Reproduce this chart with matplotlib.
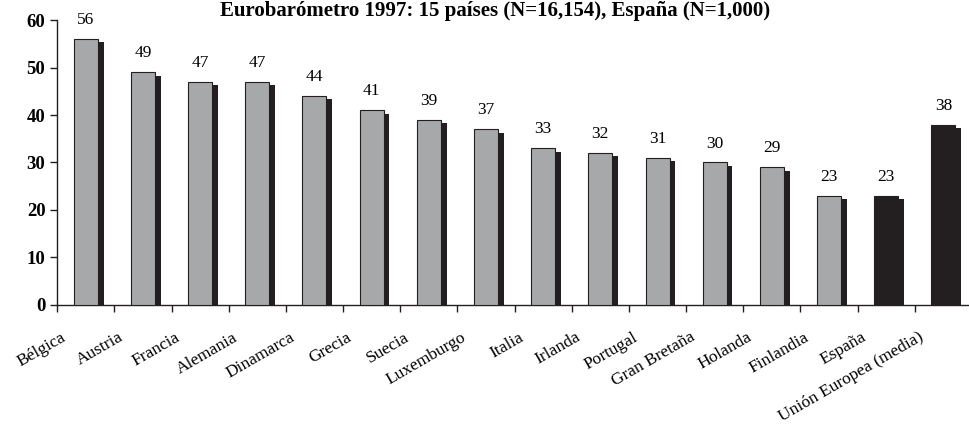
import matplotlib.pyplot as plt
import numpy as np

paises = ['Bélgica', 'Austria', 'Francia', 'Alemania', 'Dinamarca', 'Grecia',
          'Suecia', 'Luxemburgo', 'Italia', 'Irlanda', 'Portugal',
          'Gran Bretaña', 'Holanda', 'Finlandia', 'España',
          'Unión Europea (media)']
valores = [56, 49, 47, 47, 44, 41, 39, 37, 33, 32, 31, 30, 29, 23, 23, 38]
destacados = ['España', 'Unión Europea (media)']


def plot():
    plt.rcParams['font.family'] = ['Liberation Serif', 'DejaVu Serif']

    fig = plt.figure(figsize=(9.7, 4.38), dpi=100)
    ax = fig.add_axes([0.059, 0.304, 0.943, 0.65])

    x = np.arange(len(paises))
    colores = ['#231f20' if p in destacados else '#a7a8aa' for p in paises]

    # sombra
    ax.bar(x + 0.1, np.array(valores) - 0.7, width=0.42, color='#231f20',
           zorder=2)
    ax.bar(x, valores, width=0.42, color=colores, edgecolor='#231f20',
           linewidth=0.8, zorder=3)

    for xi, v in zip(x, valores):
        ax.text(xi, v + 2.3, str(v), ha='center', va='bottom', fontsize=12.5)

    ax.set_xlim(-0.5, len(paises) - 0.5)
    ax.set_ylim(0, 60)
    ax.set_yticks(range(0, 61, 10))
    ax.set_yticklabels([str(t) for t in range(0, 61, 10)],
                       fontweight='bold', fontsize=13.5)
    ax.set_xticks(np.arange(len(paises) + 1) - 0.5)
    ax.set_xticklabels([])
    ax.tick_params(axis='both', direction='out', length=5, width=1,
                   color='#231f20')

    for xi, p in zip(x, paises):
        ax.text(xi - 0.37, -6.6, p, rotation=30, rotation_mode='anchor',
                ha='right', va='center', fontsize=12.5)

    for s in ['top', 'right']:
        ax.spines[s].set_visible(False)
    for s in ['left', 'bottom']:
        ax.spines[s].set_color('#231f20')
        ax.spines[s].set_linewidth(1)

    fig.text(0.51, 0.975,
             'Eurobarómetro 1997: 15 países (N=16,154), España (N=1,000)',
             ha='center', va='center', fontsize=15, fontweight='bold')

    fig.savefig('out.png', dpi=100)


if __name__ == '__main__':
    plot()
